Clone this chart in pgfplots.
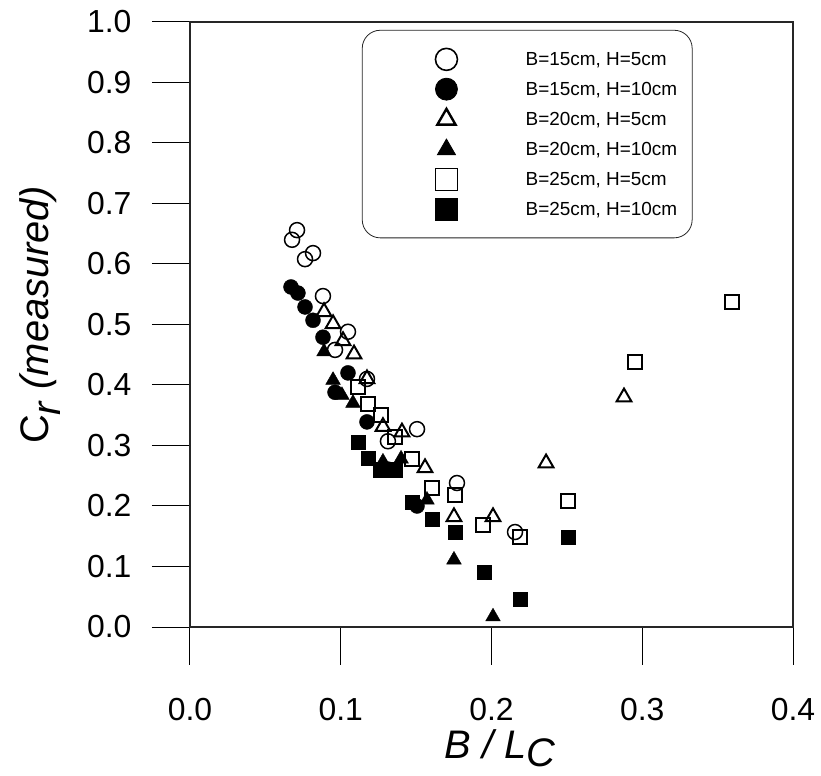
\documentclass[border=0pt]{standalone}
\usepackage{fontspec}
\setmainfont{Liberation Sans}
\usepackage{pgfplots}
\pgfplotsset{compat=1.18}
\begin{document}
\begin{tikzpicture}
\useasboundingbox (-190bp,-149bp) rectangle (631bp,627bp);
\begin{axis}[
  scale only axis, width=603bp, height=605bp,
  xmin=0, xmax=0.4, ymin=0, ymax=1,
  xtick={0,0.1,0.2,0.3,0.4}, xticklabels={0.0,0.1,0.2,0.3,0.4},
  ytick={0,0.1,0.2,0.3,0.4,0.5,0.6,0.7,0.8,0.9,1.0},
  yticklabels={0.0,0.1,0.2,0.3,0.4,0.5,0.6,0.7,0.8,0.9,1.0},
  tick align=outside, xtick pos=bottom, ytick pos=left,
  major tick length=38bp,
  axis line style={line width=1.3bp, black!85},
  tick style={line width=1bp, black},
  tick label style={font=\fontsize{32}{36}\selectfont},
  xticklabel style={yshift=-30bp},
  yticklabel style={xshift=-17bp},
  /pgf/number format/assume math mode=true,
  xlabel={\textit{B / L}\raisebox{-0.2em}{\textit{C}}},
  ylabel={C\raisebox{-0.3em}{\textit{r}}\ \textit{(measured)}},
  label style={font=\fontsize{40}{44}\selectfont},
  xlabel style={at={(axis description cs:0.514,-0.217)}, anchor=base},
  ylabel style={at={(axis description cs:-0.249,0.516)}, anchor=center},
  clip=false,
  legend style={at={(axis description cs:0.285,0.987)}, anchor=north west,
    draw=black!85, line width=0.8bp, rounded corners=18bp,
    font=\fontsize{19}{22}\selectfont,
    inner xsep=15bp, inner ysep=14bp, row sep=0bp,
    nodes={inner sep=0pt},
    /tikz/every odd column/.append style={column sep=67bp}},
  legend cell align=left,
  legend image code/.code={\path (-68bp,-14.3bp) (11bp,14.3bp); \draw[#1] plot coordinates {(0bp,0bp)};},
]
% legend images
\addlegendimage{only marks, mark=o, mark size=11bp, line width=1.6bp, black}
\addlegendentry{B=15cm, H=5cm}
\addlegendimage{only marks, mark=*, mark size=11bp, black}
\addlegendentry{B=15cm, H=10cm}
\addlegendimage{only marks, mark=triangle, mark size=10.5bp, line width=2.4bp, black}
\addlegendentry{B=20cm, H=5cm}
\addlegendimage{only marks, mark=triangle*, mark size=10.5bp, black}
\addlegendentry{B=20cm, H=10cm}
\addlegendimage{only marks, mark=square, mark size=11bp, line width=1.6bp, black}
\addlegendentry{B=25cm, H=5cm}
\addlegendimage{only marks, mark=square*, mark size=11bp, black}
\addlegendentry{B=25cm, H=10cm}

% B=15cm, H=5cm
\addplot[only marks, mark=o, mark size=7.5bp, line width=1.5bp, black, forget plot] coordinates {
(0.0710,0.656) (0.0677,0.640) (0.0763,0.608) (0.0816,0.618) (0.0882,0.547)
(0.1048,0.488) (0.0962,0.458) (0.1174,0.410) (0.1313,0.307) (0.1506,0.327)
(0.1771,0.238) (0.2156,0.157)};
% B=15cm, H=10cm
\addplot[only marks, mark=*, mark size=7.5bp, black, forget plot] coordinates {
(0.0670,0.562) (0.0716,0.552) (0.0763,0.529) (0.0816,0.507) (0.0882,0.479)
(0.1048,0.420) (0.0962,0.388) (0.1174,0.339) (0.1313,0.261) (0.1506,0.200)};
% B=20cm, H=5cm
\addplot[only marks, mark=triangle, mark size=8.5bp, line width=2bp, black, forget plot] coordinates {
(0.0889,0.521) (0.0949,0.501) (0.1015,0.473) (0.1088,0.451) (0.1174,0.410)
(0.1280,0.331) (0.1406,0.322) (0.1559,0.263) (0.1751,0.182) (0.2010,0.182)
(0.2362,0.271) (0.2879,0.380)};
% B=20cm, H=10cm
\addplot[only marks, mark=triangle*, mark size=8.5bp, black, forget plot] coordinates {
(0.0889,0.455) (0.0949,0.408) (0.1008,0.383) (0.1081,0.370) (0.1280,0.273)
(0.1400,0.278) (0.1572,0.210) (0.1751,0.111) (0.2010,0.017)};
% B=25cm, H=5cm
\addplot[only marks, mark=square, mark size=7bp, line width=1.5bp, black, forget plot] coordinates {
(0.1114,0.397) (0.1181,0.369) (0.1267,0.350) (0.1360,0.314) (0.1473,0.278)
(0.1605,0.230) (0.1758,0.218) (0.1944,0.169) (0.2189,0.149) (0.2507,0.208)
(0.2952,0.438) (0.3595,0.537)};
% B=25cm, H=10cm
\addplot[only marks, mark=square*, mark size=7bp, black, forget plot] coordinates {
(0.1114,0.306) (0.1181,0.279) (0.1260,0.260) (0.1360,0.260) (0.1473,0.207)
(0.1605,0.179) (0.1758,0.157) (0.1950,0.091) (0.2189,0.046) (0.2507,0.149)};
\end{axis}
\end{tikzpicture}
\end{document}
